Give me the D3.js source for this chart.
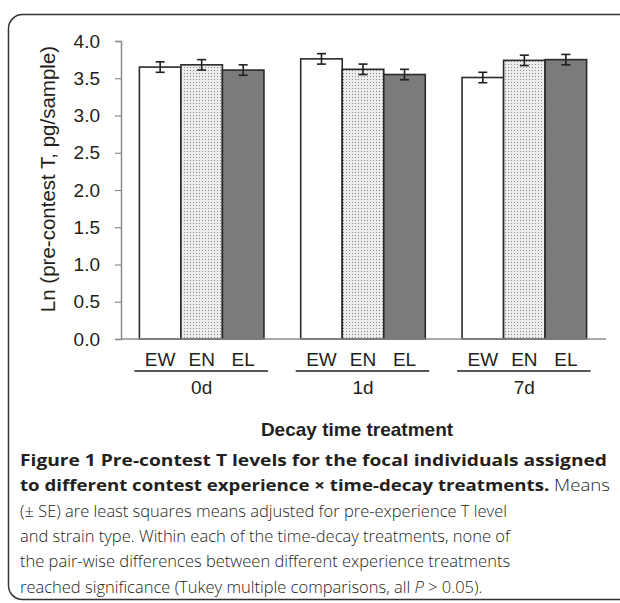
<!DOCTYPE html>
<html>
<head>
<meta charset="utf-8">
<script src="https://cdn.jsdelivr.net/npm/d3@7"></script>
<style>
  body { margin: 0; background: #fff; }
  svg { display: block; }
</style>
</head>
<body>
<div id="chart"></div>
<script>
// -------- data ---------- //
var decays = ["0d", "1d", "7d"];
var experiences = ["EW", "EN", "EL"];
var meanEW = [3.65, 3.76, 3.51];
var meanEN = [3.68, 3.62, 3.74];
var meanEL = [3.61, 3.55, 3.75];
var seEW = [0.07, 0.07, 0.07];
var seEN = [0.07, 0.07, 0.07];
var seEL = [0.07, 0.07, 0.07];
var yTicks = [0, 0.5, 1, 1.5, 2, 2.5, 3, 3.5, 4];

var yTitle = "Ln (pre-contest T, pg/sample)";
var xTitle = "Decay time treatment";

// caption lines, each a list of [text, style] pieces
var captionLines = [
  [["Figure 1 Pre-contest T levels for the focal individuals assigned", "b"]],
  [["to different contest experience \u00d7 time-decay treatments.", "b"], [" Means", "r"]],
  [["(\u00b1 SE) are least squares means adjusted for pre-experience T level", "r"]],
  [["and strain type. Within each of the time-decay treatments, none of", "r"]],
  [["the pair-wise differences between different experience treatments", "r"]],
  [["reached significance (Tukey multiple comparisons, all ", "r"], ["P", "i"], [" > 0.05).", "r"]]
];
// widths of the bold-heavy lines in the printed caption
var captionFit = [587, 590, null, null, null, null];

var means = { EW: meanEW, EN: meanEN, EL: meanEL };
var ses = { EW: seEW, EN: seEN, EL: seEL };

var rows = [];
decays.forEach(function(d, i) {
  experiences.forEach(function(e) {
    rows.push({ decay: d, exp: e, mean: means[e][i], se: ses[e][i] });
  });
});

// -------- layout ---------- //
var width = 620;
var height = 603;
var labFont = "'Liberation Sans', Arial, sans-serif";

var svg = d3
  .select("#chart")
  .append("svg")
  .attr("width", width)
  .attr("height", height);

// pattern for the EN bars (stipple)
var defs = svg.append("defs");
var pat = defs
  .append("pattern")
  .attr("id", "dots")
  .attr("width", 3)
  .attr("height", 3)
  .attr("patternUnits", "userSpaceOnUse");
pat.append("rect").attr("width", 3).attr("height", 3).attr("fill", "#ececec");
pat.append("rect").attr("x", 1).attr("y", 1).attr("width", 1).attr("height", 1).attr("fill", "#8a8a8a");

var fills = { EW: "#ffffff", EN: "url(#dots)", EL: "#7b7b7d" };

// outer frame
svg
  .append("rect")
  .attr("x", 8.5)
  .attr("y", 14.5)
  .attr("width", 660)
  .attr("height", 585)
  .attr("rx", 14)
  .attr("fill", "none")
  .attr("stroke", "#333")
  .attr("stroke-width", 1.5);

var x0 = d3
  .scaleBand()
  .domain(decays)
  .range([121, 605])
  .paddingInner(0.228)
  .paddingOuter(0.114);

var x1 = d3
  .scaleBand()
  .domain(experiences)
  .range([0, x0.bandwidth()]);

var y = d3.scaleLinear().domain([0, 4]).range([339, 41]);

// y axis
var yAxis = svg
  .append("g")
  .attr("transform", "translate(121,0)")
  .call(
    d3.axisLeft(y)
      .tickValues(yTicks)
      .tickFormat(d3.format(".1f"))
      .tickSize(6)
      .tickPadding(15)
  );
yAxis.select(".domain").attr("stroke", "#8c8c8c").attr("stroke-width", 1.5);
yAxis.selectAll(".tick line").attr("stroke", "#8c8c8c").attr("stroke-width", 1.2);
yAxis
  .selectAll(".tick text")
  .attr("fill", "#231f20")
  .style("font-family", labFont)
  .style("font-size", "19px");

// bars
var bars = svg.append("g");
bars
  .selectAll("rect")
  .data(rows)
  .join("rect")
  .attr("x", function(d) { return x0(d.decay) + x1(d.exp); })
  .attr("y", function(d) { return y(d.mean); })
  .attr("width", x1.bandwidth())
  .attr("height", function(d) { return y(0) - y(d.mean); })
  .attr("fill", function(d) { return fills[d.exp]; })
  .attr("stroke", "#2a2a2a")
  .attr("stroke-width", 1.6);

// baseline
svg
  .append("line")
  .attr("x1", 121)
  .attr("x2", 606)
  .attr("y1", y(0))
  .attr("y2", y(0))
  .attr("stroke", "#8c8c8c")
  .attr("stroke-width", 1.5);

// error bars
var err = svg.append("g").attr("stroke", "#231f20").attr("stroke-width", 1.6);
rows.forEach(function(d) {
  var cx = x0(d.decay) + x1(d.exp) + x1.bandwidth() / 2;
  err.append("line")
    .attr("x1", cx).attr("x2", cx)
    .attr("y1", y(d.mean + d.se)).attr("y2", y(d.mean - d.se));
  err.append("line")
    .attr("x1", cx - 4.5).attr("x2", cx + 4.5)
    .attr("y1", y(d.mean + d.se)).attr("y2", y(d.mean + d.se));
  err.append("line")
    .attr("x1", cx - 4.5).attr("x2", cx + 4.5)
    .attr("y1", y(d.mean - d.se)).attr("y2", y(d.mean - d.se));
});

// category labels
svg
  .append("g")
  .selectAll("text")
  .data(rows)
  .join("text")
  .attr("x", function(d) { return x0(d.decay) + x1(d.exp) + x1.bandwidth() / 2; })
  .attr("y", 366)
  .attr("text-anchor", "middle")
  .attr("fill", "#231f20")
  .style("font-family", labFont)
  .style("font-size", "19px")
  .text(function(d) { return d.exp; });

// group underline + labels
var groups = svg.append("g").selectAll("g").data(decays).join("g");
groups
  .append("line")
  .attr("x1", function(d) { return x0(d) - 5; })
  .attr("x2", function(d) { return x0(d) + x0.bandwidth() + 4; })
  .attr("y1", 371)
  .attr("y2", 371)
  .attr("stroke", "#231f20")
  .attr("stroke-width", 1.6);
groups
  .append("text")
  .attr("x", function(d) { return x0(d) + x0.bandwidth() / 2; })
  .attr("y", 394)
  .attr("text-anchor", "middle")
  .attr("fill", "#231f20")
  .style("font-family", labFont)
  .style("font-size", "19px")
  .text(function(d) { return d; });

// axis titles
svg
  .append("text")
  .attr("x", 357)
  .attr("y", 436)
  .attr("text-anchor", "middle")
  .attr("fill", "#231f20")
  .style("font-family", labFont)
  .style("font-size", "19px")
  .style("font-weight", "bold")
  .text(xTitle);

svg
  .append("text")
  .attr("transform", "translate(55,179) rotate(-90)")
  .attr("text-anchor", "middle")
  .attr("fill", "#231f20")
  .style("font-family", labFont)
  .style("font-size", "20.5px")
  .text(yTitle);

// caption
var cap = svg
  .append("g")
  .style("font-family", "'Open Sans', 'Noto Sans', sans-serif")
  .style("font-size", "16.5px")
  .attr("fill", "#231f20");

captionLines.forEach(function(line, i) {
  var t = cap.append("text").attr("x", 20).attr("y", 466 + i * 25.3);
  if (captionFit[i]) {
    t.attr("textLength", captionFit[i]).attr("lengthAdjust", "spacingAndGlyphs");
  }
  line.forEach(function(piece) {
    var s = t.append("tspan").text(piece[0]);
    if (piece[1] === "b") s.style("font-weight", "bold");
    else s.style("font-weight", "300");
    if (piece[1] === "i") s.style("font-style", "italic");
  });
});
</script>
</body>
</html>
